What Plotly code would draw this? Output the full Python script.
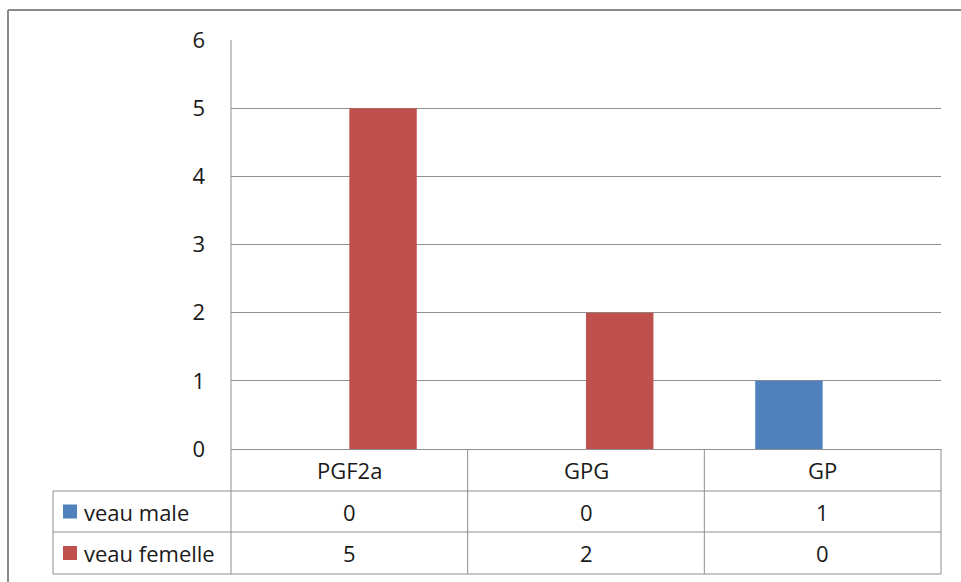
import plotly.graph_objects as go

categories = ["PGF2a", "GPG", "GP"]
series_names = ["veau male", "veau femelle"]
veau_male = [0, 0, 1]
veau_femelle = [5, 2, 0]
y_ticks = [0, 1, 2, 3, 4, 5, 6]

colors = ["#4F81BD", "#C0504D"]
W, H = 961, 582
FONT = "Open Sans"
FSIZE = 22
LINE = "#8E8E8E"

def px(x):
    return x / W

def py(y):
    return 1 - y / H

plot_l, plot_r, plot_t, plot_b = 231, 941, 40, 449
row_y = [449, 491, 532, 574]
table_l = 53

fig = go.Figure()
for name, vals, col in zip(series_names, [veau_male, veau_femelle], colors):
    fig.add_trace(go.Bar(x=categories, y=vals, name=name, marker=dict(color=col, line=dict(width=0)),
                         showlegend=False))

shapes = []
def line(x0, y0, x1, y1, color=LINE, width=1):
    shapes.append(dict(type="line", xref="paper", yref="paper", x0=px(x0), y0=py(y0), x1=px(x1), y1=py(y1),
                       line=dict(color=color, width=width), layer="above"))

# outer chart border
line(8, 10, W, 10, "#8A8A8A", 2)
line(8, 10, 8, H, "#8A8A8A", 2)

# data table lines
ncat = len(categories)
colw = (plot_r - plot_l) / ncat
for y in row_y[1:]:
    line(table_l, y, plot_r, y)
line(table_l, row_y[1], table_l, row_y[-1])
line(plot_l, plot_t, plot_l, row_y[-1])
for i in range(1, ncat + 1):
    x = plot_l + colw * i
    line(x, row_y[0], x, row_y[-1])

annotations = []
tfont = dict(family=FONT, size=FSIZE, color="#1A1A1A")
for i, c in enumerate(categories):
    cx = plot_l + colw * (i + 0.5)
    annotations.append(dict(x=px(cx), y=py((row_y[0] + row_y[1]) / 2), xref="paper", yref="paper",
                            text=c, showarrow=False, font=tfont, xanchor="center", yanchor="middle"))
    for r, vals in enumerate([veau_male, veau_femelle]):
        annotations.append(dict(x=px(cx), y=py((row_y[r + 1] + row_y[r + 2]) / 2), xref="paper", yref="paper",
                                text=str(vals[i]), showarrow=False, font=tfont, xanchor="center", yanchor="middle"))
for r, (name, col) in enumerate(zip(series_names, colors)):
    ymid = (row_y[r + 1] + row_y[r + 2]) / 2
    shapes.append(dict(type="rect", xref="paper", yref="paper", x0=px(63), x1=px(77), y0=py(ymid - 7), y1=py(ymid + 7),
                       fillcolor=col, line=dict(width=0)))
    annotations.append(dict(x=px(82), y=py(ymid), xref="paper", yref="paper", text=name, showarrow=False,
                            font=tfont, xanchor="left", yanchor="middle"))

fig.update_layout(
    width=W, height=H, autosize=False,
    margin=dict(l=0, r=0, t=0, b=0, pad=0, autoexpand=False),
    paper_bgcolor="white", plot_bgcolor="white",
    barmode="group", bargap=0.43, bargroupgap=0,
    shapes=shapes, annotations=annotations,
    font=dict(family=FONT, size=FSIZE, color="#1A1A1A"),
    xaxis=dict(domain=[px(plot_l), px(plot_r)], showticklabels=False, showgrid=False, zeroline=False,
               showline=True, linecolor=LINE, linewidth=1, ticks="", automargin=False),
    yaxis=dict(domain=[py(plot_b), py(plot_t)], range=[0, 6], tickvals=y_ticks, showgrid=True,
               gridcolor=LINE, gridwidth=1, zeroline=False, showline=False, ticks="", automargin=False,
               ticklabelstandoff=25, tickfont=dict(family=FONT, size=FSIZE, color="#1A1A1A")),
)

fig.write_html("out.html", config={"responsive": False, "displayModeBar": False},
               post_script="document.body.style.margin='0';document.body.style.overflow='hidden';")
